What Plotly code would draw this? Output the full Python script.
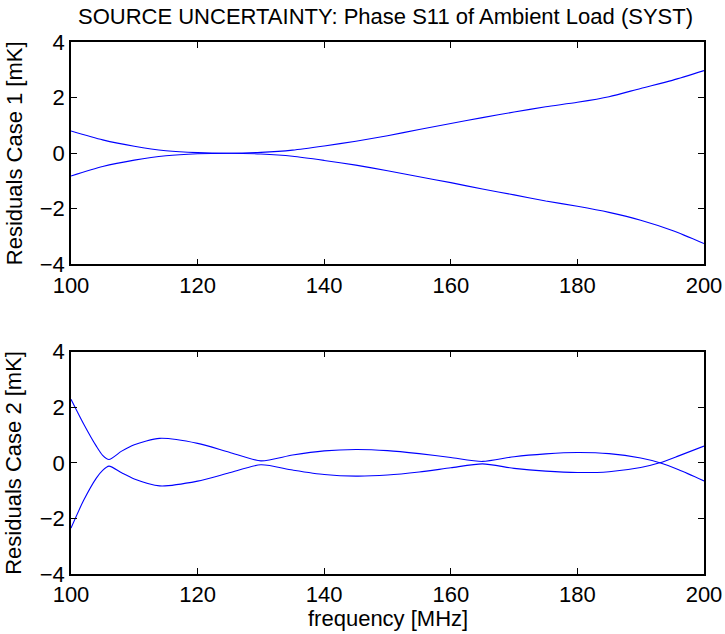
import plotly.graph_objects as go
from plotly.subplots import make_subplots

# Case 1 data
freq1 = [100, 105, 110, 115, 120, 125, 130, 135, 140, 145, 150, 155, 160, 165, 170, 175, 180, 185, 190, 195, 200]
case1_upper = [0.80, 0.48, 0.25, 0.09, 0.02, 0.00, 0.03, 0.11, 0.26, 0.43, 0.63, 0.85, 1.07, 1.28, 1.48, 1.67, 1.83, 2.03, 2.33, 2.62, 2.97]
case1_lower = [-0.82, -0.48, -0.25, -0.09, -0.02, 0.00, -0.03, -0.11, -0.26, -0.43, -0.63, -0.85, -1.06, -1.29, -1.50, -1.72, -1.91, -2.13, -2.41, -2.78, -3.25]

# Case 2 data
freq2 = [100, 102, 104, 105, 106, 108, 110, 114, 120, 125, 130, 135, 140, 145, 150, 155, 160, 165, 170, 175, 180, 185, 190, 193, 196, 200]
case2_upper = [2.29, 1.40, 0.60, 0.27, 0.12, 0.42, 0.65, 0.88, 0.70, 0.38, 0.07, 0.28, 0.43, 0.48, 0.44, 0.33, 0.19, 0.05, 0.22, 0.32, 0.37, 0.33, 0.17, 0.00, -0.25, -0.65]
case2_lower = [-2.35, -1.35, -0.55, -0.27, -0.12, -0.36, -0.58, -0.83, -0.66, -0.36, -0.07, -0.26, -0.42, -0.48, -0.44, -0.33, -0.18, -0.04, -0.20, -0.30, -0.35, -0.32, -0.17, 0.00, 0.25, 0.60]

x_ticks = [100, 120, 140, 160, 180, 200]
y_ticks = [-4, -2, 0, 2, 4]

title_text = "SOURCE UNCERTAINTY: Phase S11 of Ambient Load (SYST)"
ylabel1 = "Residuals Case 1 [mK]"
ylabel2 = "Residuals Case 2 [mK]"
xlabel = "frequency [MHz]"

FONT = "Liberation Sans, Arial, Helvetica, sans-serif"
BLUE = "rgb(0,0,255)"
FS = 22

fig = make_subplots(rows=2, cols=1, vertical_spacing=0.164)

for xs, ys, row in [(freq1, case1_upper, 1), (freq1, case1_lower, 1),
                    (freq2, case2_upper, 2), (freq2, case2_lower, 2)]:
    fig.add_trace(go.Scatter(x=xs, y=ys, mode="lines",
                             line=dict(color=BLUE, width=1.1, shape="spline", smoothing=0.7),
                             showlegend=False, hoverinfo="skip"), row=row, col=1)

axis_common = dict(showline=True, mirror="ticks", linecolor="black", linewidth=1.5,
                   ticks="inside", ticklen=6, tickwidth=1, tickcolor="black",
                   showgrid=False, zeroline=False, automargin=False,
                   tickfont=dict(family=FONT, size=FS, color="black"))

for r in (1, 2):
    fig.update_xaxes(range=[100, 200], tickvals=x_ticks, **axis_common, row=r, col=1)
    fig.update_yaxes(range=[-4, 4], tickvals=y_ticks, **axis_common, row=r, col=1)

lab_font = dict(family=FONT, size=FS, color="black")
# y-axis labels
fig.add_annotation(text=ylabel1, xref="paper", yref="y domain", x=0, y=0.5,
                   xshift=-57, textangle=-90, showarrow=False,
                   xanchor="center", yanchor="middle", font=lab_font)
fig.add_annotation(text=ylabel2, xref="paper", yref="y2 domain", x=0, y=0.5,
                   xshift=-57, textangle=-90, showarrow=False,
                   xanchor="center", yanchor="middle", font=lab_font)
# x-axis label
fig.add_annotation(text=xlabel, xref="x2 domain", yref="paper", x=0.5, y=0,
                   yshift=-44, showarrow=False,
                   xanchor="center", yanchor="middle", font=lab_font)

fig.update_layout(
    width=725, height=634,
    margin=dict(l=71, r=21, t=42, b=60),
    paper_bgcolor="white", plot_bgcolor="white",
    title=dict(text=title_text, xref="container", x=385.5 / 725, xanchor="center",
               yref="container", y=1 - 16 / 634, yanchor="middle",
               font=dict(family=FONT, size=FS, color="black")),
)

fig.write_html("out.html")
